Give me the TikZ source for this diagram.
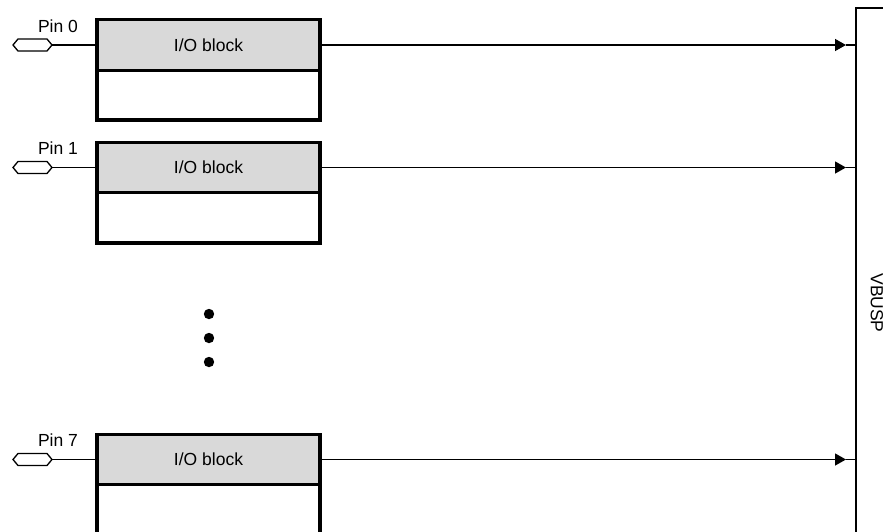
\documentclass[tikz,border=0pt]{standalone}
\usepackage{fontspec}
\setmainfont{Liberation Sans}
\usetikzlibrary{arrows.meta}
\definecolor{hdrgray}{HTML}{D9D9D9}
\tikzset{
  hdr/.style={draw, line width=1.3pt, fill=hdrgray, minimum width=222pt, inner sep=0pt, font=\fontsize{17.5}{20}\selectfont},
  bodybox/.style={draw, line width=1.3pt, fill=white, minimum width=222pt, inner sep=0pt},
  outer/.style={line width=3.5pt},
  wire/.style={line width=1.3pt},
  sig/.style={line width=1.3pt, -{Triangle[length=11pt,width=12pt]}},
  pinlbl/.style={font=\fontsize{17.5}{20}\selectfont, inner sep=0pt},
  dotc/.style={fill=black}
}
\begin{document}
\begin{tikzpicture}[x=1pt,y=-1pt]
\useasboundingbox (0,0) rectangle (883,531);
\clip (0,0) rectangle (883,531);
% blocks
\node[hdr, minimum height=50pt] (h0) at (208.5,45) {I/O block};
\node[bodybox, minimum height=48pt, anchor=north] (b0) at (h0.south) {};
\draw[outer] (h0.north west) rectangle (b0.south east);
\node[hdr, minimum height=49pt] (h1) at (208.5,167.5) {I/O block};
\node[bodybox, minimum height=49pt, anchor=north] (b1) at (h1.south) {};
\draw[outer] (h1.north west) rectangle (b1.south east);
\node[hdr, minimum height=49pt] (h7) at (208.5,459.5) {I/O block};
\node[bodybox, minimum height=50pt, anchor=north] (b7) at (h7.south) {};
\draw[outer] (h7.north west) rectangle (b7.south east);
% pins
\foreach \n/\y in {0/45,1/167.5,7/459.5}{
  \draw[wire, fill=white] (13,\y) -- (18,\y-6) -- (47,\y-6) -- (52,\y) -- (47,\y+6) -- (18,\y+6) -- cycle;
  \coordinate (p\n) at (52,\y);
  \node[pinlbl] (l\n) at (58,\y-19) {Pin \n};
  \draw[wire] (p\n) -- (h\n.west);
}
% bus
\coordinate (bt) at (856,8);
\coordinate (bb) at (856,540);
\coordinate (br) at (883,8);
\draw[wire] (br) -- (bt) -- (bb);
\node[pinlbl, rotate=-90] (vb) at (877,303) {VBUSP};
\foreach \n/\y in {0/45,1/167.5,7/459.5}{
  \coordinate (a\n) at (846,\y);
  \coordinate (s\n) at (856,\y);
  \draw[sig] (h\n.east) -- (a\n);
  \draw[wire] (a\n) -- (s\n);
}
% dots
\fill[dotc] (209,314) circle (5.2);
\fill[dotc] (209,338) circle (5.2);
\fill[dotc] (209,362) circle (5.2);
\end{tikzpicture}
\end{document}
